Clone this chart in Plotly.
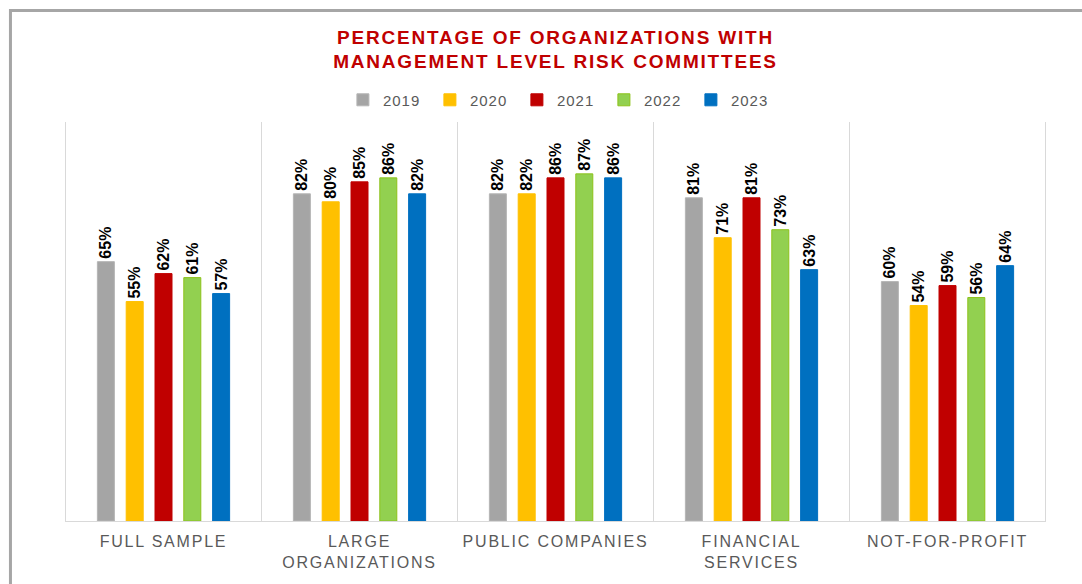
import plotly.graph_objects as go

categories = ["FULL SAMPLE", "LARGE<br>ORGANIZATIONS", "PUBLIC COMPANIES",
              "FINANCIAL<br>SERVICES", "NOT-FOR-PROFIT"]
years = ["2019", "2020", "2021", "2022", "2023"]
values = {
    "2019": [65, 82, 82, 81, 60],
    "2020": [55, 80, 82, 71, 54],
    "2021": [62, 85, 86, 81, 59],
    "2022": [61, 86, 87, 73, 56],
    "2023": [57, 82, 86, 63, 64],
}
colors = {
    "2019": "#A5A5A5",
    "2020": "#FFC000",
    "2021": "#C00000",
    "2022": "#92D050",
    "2023": "#0070C0",
}
edge = {
    "2019": "#B5B5B5",
    "2020": "#FFC000",
    "2021": "#C00000",
    "2022": "#8CC21A",
    "2023": "#0070C0",
}

FONT = "Liberation Sans, Arial, sans-serif"

fig = go.Figure()
for yr in years:
    fig.add_trace(go.Bar(
        x=categories,
        y=values[yr],
        name=yr,
        marker=dict(color=colors[yr], line=dict(color=edge[yr], width=1)),
        texttemplate="%{y}%",
        textposition="outside",
        textangle=-90,
        constraintext="none",
        cliponaxis=False,
        textfont=dict(family=FONT, size=16, color="#000000", weight="bold"),
        hoverinfo="skip",
    ))

shapes = []
# thin separators between the category groups
for i in range(len(categories) + 1):
    shapes.append(dict(type="line", xref="x", yref="paper",
                       x0=i - 0.5, x1=i - 0.5, y0=0, y1=1,
                       line=dict(color="#D9D9D9", width=1), layer="below"))
# outer frame, only its top and left edges fall inside the picture
shapes.append(dict(type="rect", xref="paper", yref="paper",
                   x0=-0.0556, x1=1.3, y0=-0.5, y1=1.2794,
                   line=dict(color="#A6A6A6", width=3), layer="below"))

fig.update_layout(
    width=1082,
    height=584,
    margin=dict(l=65, r=36, t=122, b=63, pad=0),
    paper_bgcolor="white",
    plot_bgcolor="white",
    barmode="group",
    bargap=0.265,
    bargroupgap=0.41,
    title=dict(
        text="PERCENTAGE OF ORGANIZATIONS WITH<br>MANAGEMENT LEVEL RISK COMMITTEES",
        x=0.5, xref="paper", xanchor="center",
        y=0.9255, yref="container", yanchor="middle",
        font=dict(family=FONT, size=19, color="#C00000", weight="bold"),
    ),
    legend=dict(
        orientation="h",
        x=0.505, xanchor="center",
        y=1.055, yanchor="middle",
        font=dict(family=FONT, size=15, color="#595959"),
        entrywidth=42, entrywidthmode="pixels",
        itemwidth=30,
        traceorder="normal",
    ),
    xaxis=dict(
        showgrid=False,
        showline=True, linecolor="#D9D9D9", linewidth=1,
        ticks="", ticklabelstandoff=6,
        tickfont=dict(family=FONT, size=16, color="#595959"),
    ),
    yaxis=dict(range=[0, 100], visible=False, showgrid=False),
    shapes=shapes,
    showlegend=True,
)

page_css = (
    "document.body.style.margin='0';"
    "var s=document.createElement('style');"
    "s.textContent='.xtick text{letter-spacing:1.8px}.gtitle{letter-spacing:1.8px}"
    ".legendtext{letter-spacing:1px}';"
    "document.head.appendChild(s);"
)
fig.write_html("out.html", post_script=page_css,
               config={"displayModeBar": False})
